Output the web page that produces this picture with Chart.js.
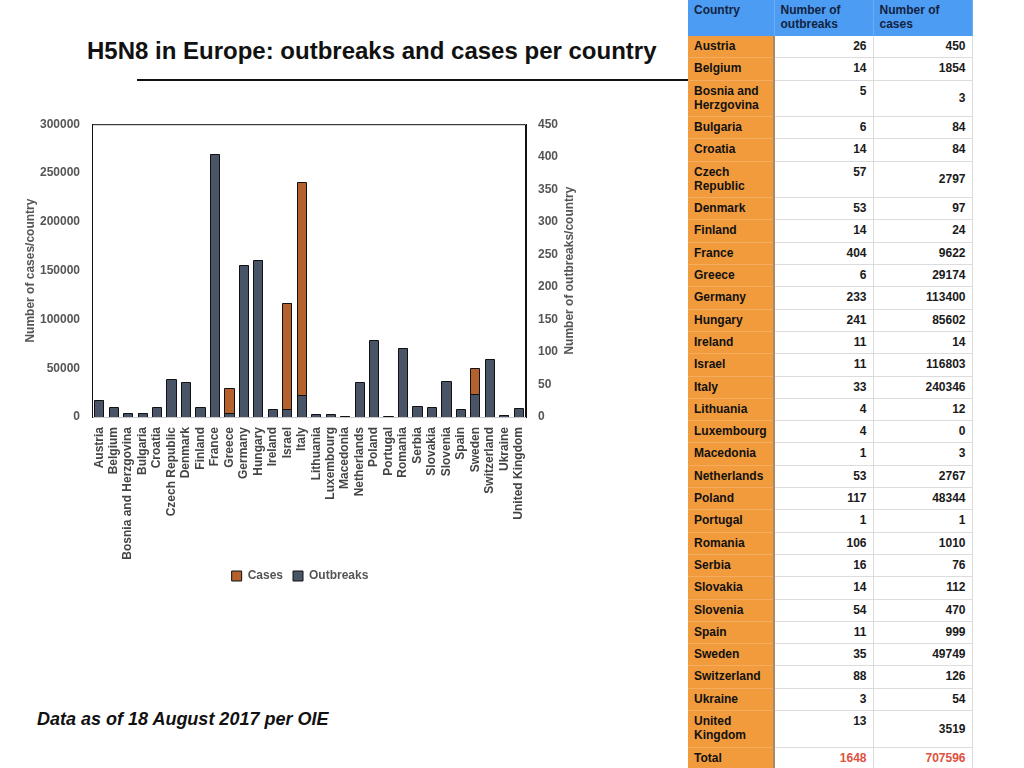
<!DOCTYPE html>
<html>
<head>
<meta charset="utf-8">
<script src="https://cdn.jsdelivr.net/npm/chart.js@4"></script>
<style>
  body { margin: 0; width: 1024px; height: 768px; background: #fff; font-family: "Liberation Sans", Arial, sans-serif; position: relative; overflow: hidden; }
  #title { position: absolute; left: 87px; top: 37px; font-size: 24px; font-weight: bold; color: #111; }
  #rule { position: absolute; left: 137px; top: 79px; width: 560px; height: 2px; background: #111; }
  #foot { position: absolute; left: 37px; top: 709px; font-size: 18px; font-weight: bold; font-style: italic; color: #111; }
  #chartBox { position: absolute; left: 20px; top: 105px; width: 560px; height: 487px; }
  #tbl { position: absolute; left: 688px; top: 0; width: 284px; border-collapse: collapse; table-layout: fixed; font-size: 12px; font-weight: bold; line-height: 14px; }
  #tbl td, #tbl th { padding: 3px 6px 0 6px; vertical-align: top; border-bottom: 1px solid #dcdcdc; overflow: hidden; }
  #tbl th { background: #4c9cf3; color: #13233f; text-align: left; font-weight: bold; height: 33px; border-bottom: none; border-right: 1px solid #6aaef5; }
  #tbl td.c { background: #f19b3c; color: #111; border-bottom: 1px solid #f4ad5e; border-right: 2px solid #a88a68; }
  #tbl td.n { text-align: right; color: #1a1a1a; border-right: 1px solid #dcdcdc; }
  #tbl tr.s td { height: 18.3px; }
  #tbl tr.d td { height: 32.5px; }
  #tbl tr.d td.m { vertical-align: middle; padding-top: 0; height: 35.5px; }
  #tbl tr.t td.n { color: #e0513e; }
</style>
</head>
<body>
<div id="title">H5N8 in Europe: outbreaks and cases per country</div>
<div id="rule"></div>
<div id="chartBox"><canvas id="h5n8Chart"></canvas></div>
<table id="tbl"></table>
<div id="foot">Data as of 18 August 2017 per OIE</div>

<script>
// data per country, as in the table
const countries = ['Austria', 'Belgium', 'Bosnia and Herzgovina', 'Bulgaria', 'Croatia', 'Czech Republic',
  'Denmark', 'Finland', 'France', 'Greece', 'Germany', 'Hungary', 'Ireland', 'Israel', 'Italy', 'Lithuania',
  'Luxembourg', 'Macedonia', 'Netherlands', 'Poland', 'Portugal', 'Romania', 'Serbia', 'Slovakia', 'Slovenia',
  'Spain', 'Sweden', 'Switzerland', 'Ukraine', 'United Kingdom'];
const outbreaks = [26, 14, 5, 6, 14, 57, 53, 14, 404, 6, 233, 241, 11, 11, 33, 4, 4, 1, 53, 117, 1, 106, 16, 14, 54, 11, 35, 88, 3, 13];
const cases = [450, 1854, 3, 84, 84, 2797, 97, 24, 9622, 29174, 113400, 85602, 14, 116803, 240346, 12, 0, 3, 2767, 48344, 1, 1010, 76, 112, 470, 999, 49749, 126, 54, 3519];

// axis ticks
const casesTicks = [0, 50000, 100000, 150000, 200000, 250000, 300000];
const outbreakTicks = [0, 50, 100, 150, 200, 250, 300, 350, 400, 450];

// table shown on the right
const tableHead = ['Country', 'Number of outbreaks', 'Number of cases'];
const twoLineRows = ['Bosnia and Herzgovina', 'Czech Republic', 'United Kingdom'];

const tbl = document.getElementById('tbl');
let html = '<colgroup><col style="width:86px"><col style="width:99px"><col style="width:99px"></colgroup>';
html += '<tr>' + tableHead.map(h => '<th>' + h + '</th>').join('') + '</tr>';
countries.forEach((c, i) => {
    const cls = twoLineRows.includes(c) ? 'd' : 's';
    html += '<tr class="' + cls + '"><td class="c">' + c + '</td><td class="n">' + outbreaks[i] +
        '</td><td class="n m">' + cases[i] + '</td></tr>';
});
const totOut = outbreaks.reduce((a, b) => a + b, 0);
const totCases = cases.reduce((a, b) => a + b, 0);
html += '<tr class="s t"><td class="c">Total</td><td class="n">' + totOut + '</td><td class="n m">' + totCases + '</td></tr>';
tbl.innerHTML = html;

// chart
Chart.defaults.font.family = '"Liberation Sans", Arial, sans-serif';
Chart.defaults.font.size = 12;
Chart.defaults.font.weight = 'bold';
Chart.defaults.color = '#555';

// box around the plot + right axis title read bottom to top
const frame = {
    id: 'frame',
    beforeDatasetsDraw(chart) {
        const {ctx, chartArea: a} = chart;
        ctx.save();
        ctx.strokeStyle = '#111';
        ctx.lineWidth = 1;
        ctx.beginPath();
        ctx.moveTo(a.left + 0.5, a.bottom);
        ctx.lineTo(a.left + 0.5, a.top + 0.5);
        ctx.lineTo(a.right - 0.5, a.top + 0.5);
        ctx.lineTo(a.right - 0.5, a.bottom);
        ctx.stroke();
        ctx.restore();
    },
    // crisp black outline on each bar, drawn right after its dataset
    afterDatasetDraw(chart, args) {
        const {ctx} = chart;
        ctx.save();
        ctx.strokeStyle = '#111';
        ctx.lineWidth = 1;
        args.meta.data.forEach(bar => {
            const {x, y, base, width} = bar.getProps(['x', 'y', 'base', 'width'], true);
            if (Math.abs(base - y) < 0.3) return;
            const l = Math.floor(x - width / 2) + 0.5;
            const r = Math.ceil(x + width / 2) - 0.5;
            const t = Math.floor(y) + 0.5;
            ctx.beginPath();
            ctx.moveTo(l, base);
            ctx.lineTo(l, t);
            ctx.lineTo(r, t);
            ctx.lineTo(r, base);
            ctx.stroke();
        });
        ctx.restore();
    },
    afterDraw(chart) {
        const {ctx, chartArea: a} = chart;
        const s = chart.scales.yOut;
        ctx.save();
        ctx.translate(s.right - 10, (a.top + a.bottom) / 2);
        ctx.rotate(-Math.PI / 2);
        ctx.font = 'bold 12px "Liberation Sans", Arial, sans-serif';
        ctx.fillStyle = '#555';
        ctx.textAlign = 'center';
        ctx.textBaseline = 'middle';
        ctx.fillText('Number of outbreaks/country', 0, 0);
        ctx.restore();
    }
};

const h5n8Data = {
    labels: countries,
    datasets: [
        {
            label: 'Cases',
            data: cases,
            yAxisID: 'yCases',
            backgroundColor: '#b5612d',
            borderWidth: 0,
            inflateAmount: 0,
            order: 1
        },
        {
            label: 'Outbreaks',
            data: outbreaks,
            yAxisID: 'yOut',
            backgroundColor: '#4a5467',
            borderWidth: 0,
            inflateAmount: 0,
            order: 0
        }
    ]
};

const h5n8Config = {
    type: 'bar',
    data: h5n8Data,
    options: {
        responsive: true,
        maintainAspectRatio: false,
        animation: false,
        grouped: false,
        categoryPercentage: 0.64,
        barPercentage: 1,
        layout: { padding: 0 },
        scales: {
            x: {
                grid: { display: false, drawTicks: false },
                border: { color: '#c8c8c8' },
                ticks: { autoSkip: false, minRotation: 90, maxRotation: 90, padding: 10, color: '#444' },
                afterFit(scale) { scale.height = 143; }
            },
            yCases: {
                position: 'left',
                min: 0,
                max: casesTicks[casesTicks.length - 1],
                afterBuildTicks(scale) { scale.ticks = casesTicks.map(v => ({ value: v })); },
                grid: { display: false, drawTicks: false },
                border: { color: '#111' },
                ticks: { padding: 12, callback: v => String(v) },
                title: { display: true, text: 'Number of cases/country', padding: { top: 3, bottom: 0 } },
                afterFit(scale) { scale.width = 72; }
            },
            yOut: {
                position: 'right',
                min: 0,
                max: outbreakTicks[outbreakTicks.length - 1],
                afterBuildTicks(scale) { scale.ticks = outbreakTicks.map(v => ({ value: v })); },
                grid: { display: false, drawTicks: false },
                border: { color: '#111' },
                ticks: { padding: 12, callback: v => String(v) },
                afterFit(scale) { scale.width = 54; }
            }
        },
        plugins: {
            legend: {
                display: true,
                position: 'bottom',
                labels: {
                    boxWidth: 10,
                    boxHeight: 10,
                    padding: 10,
                    color: '#555',
                    generateLabels(chart) {
                        return Chart.defaults.plugins.legend.labels.generateLabels(chart)
                            .map(item => Object.assign(item, { lineWidth: 1, strokeStyle: '#111' }));
                    },
                    sort: (a, b) => a.datasetIndex - b.datasetIndex
                }
            },
            tooltip: { enabled: false }
        }
    },
    plugins: [frame]
};
const h5n8Element = document.querySelector('#h5n8Chart');
const h5n8Chart = new Chart(h5n8Element, h5n8Config);
</script>
</body>
</html>
